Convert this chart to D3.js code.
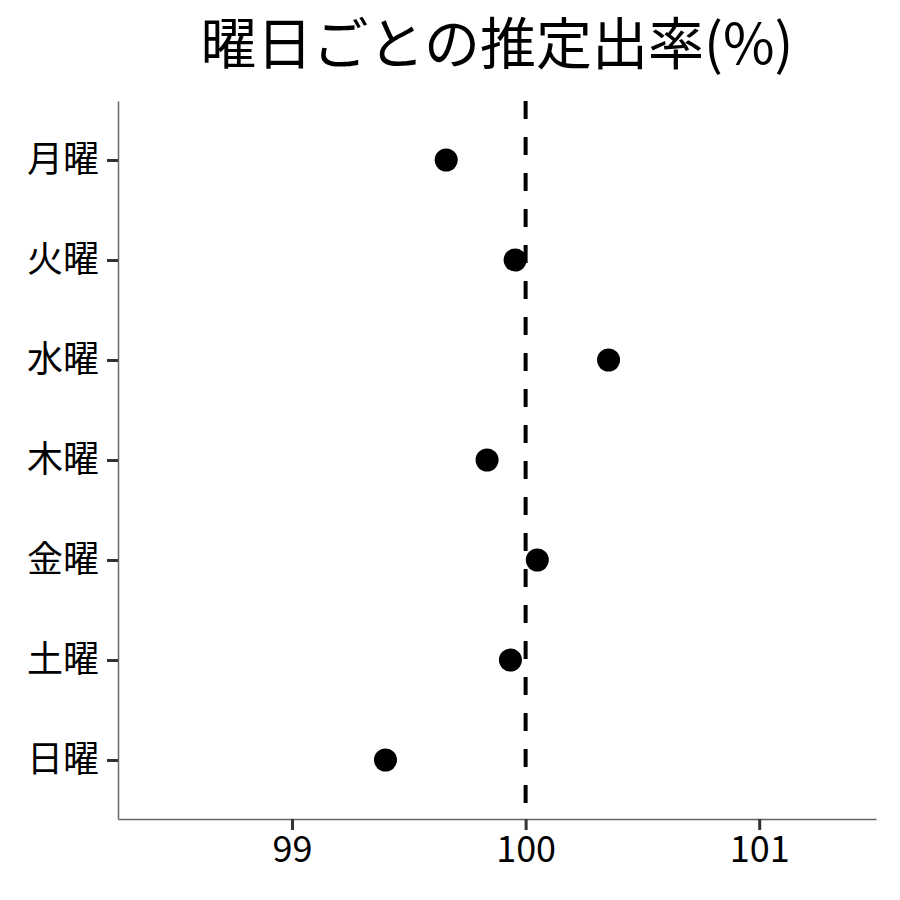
<!DOCTYPE html>
<meta charset="utf-8">
<style>
body { margin: 0; background: #fff; }
text { font-family: "Noto Sans CJK JP", sans-serif; }
</style>
<body>
<script src="https://d3js.org/d3.v7.min.js"></script>
<script>
const days = ["月曜", "火曜", "水曜", "木曜", "金曜", "土曜", "日曜"];
const rates = [99.66, 99.955, 100.355, 99.835, 100.05, 99.935, 99.40];
const xTicks = [99, 100, 101];
const refValue = 100;

const width = 900, height = 900;
const margin = {top: 101, right: 24, bottom: 81, left: 118};

const svg = d3.select("body").append("svg")
  .attr("width", width)
  .attr("height", height);

const x = d3.scaleLinear()
  .domain([98.255, 101.5])
  .range([margin.left, width - margin.right]);

const y = d3.scalePoint()
  .domain(days)
  .range([margin.top, height - margin.bottom])
  .padding(0.59);

// title
svg.append("text")
  .attr("x", 497)
  .attr("y", 64)
  .attr("text-anchor", "middle")
  .style("font-size", "56px")
  .text("曜日ごとの推定出率(%)");

// reference line
svg.append("line")
  .attr("x1", x(refValue)).attr("x2", x(refValue))
  .attr("y1", margin.top).attr("y2", height - margin.bottom)
  .attr("stroke", "#000")
  .attr("stroke-width", 4)
  .attr("stroke-dasharray", "18,18");

// axes
const xAxis = svg.append("g")
  .attr("transform", "translate(0," + (height - margin.bottom) + ")")
  .call(d3.axisBottom(x).tickValues(xTicks).tickFormat(d3.format("d"))
    .tickSize(11).tickSizeOuter(0).tickPadding(6));
xAxis.select(".domain").attr("stroke", "#666").attr("stroke-width", 1.5);
xAxis.selectAll(".tick line").attr("stroke", "#333").attr("stroke-width", 3);
xAxis.selectAll(".tick text").style("font-size", "36px").attr("fill", "#000");

const yAxis = svg.append("g")
  .attr("transform", "translate(" + margin.left + ",0)")
  .call(d3.axisLeft(y).tickSize(11).tickSizeOuter(0).tickPadding(8));
yAxis.select(".domain").attr("stroke", "#666").attr("stroke-width", 1.5);
yAxis.selectAll(".tick line").attr("stroke", "#333").attr("stroke-width", 3);
yAxis.selectAll(".tick text").style("font-size", "36px").attr("fill", "#000");

// points
svg.append("g")
  .selectAll("circle")
  .data(days)
  .enter().append("circle")
    .attr("cx", function (d, i) { return x(rates[i]); })
    .attr("cy", function (d) { return y(d); })
    .attr("r", 11.5)
    .attr("fill", "#000");
</script>
</body>
